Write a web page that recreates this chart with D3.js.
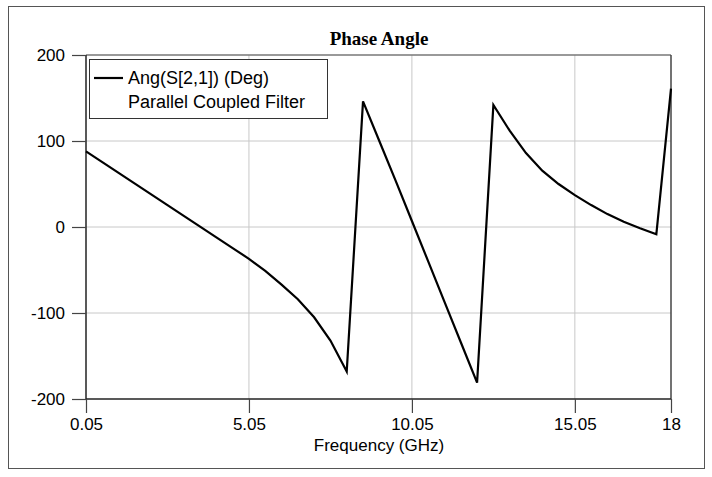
<!DOCTYPE html>
<html>
<head>
<meta charset="utf-8">
<script src="https://cdn.jsdelivr.net/npm/d3@7/dist/d3.min.js"></script>
<style>
  html, body { margin: 0; padding: 0; background: #fff; }
  svg { display: block; }
</style>
</head>
<body>
<svg id="chart" width="712" height="477"></svg>
<script>
// ---- data ----
const frequencies = [0.05, 0.55, 1.05, 1.55, 2.05, 2.55, 3.05, 3.55, 4.05, 4.55,
  5.05, 5.55, 6.05, 6.55, 7.05, 7.55, 8.05, 8.55, 9.05, 9.55,
  10.05, 10.55, 11.05, 11.55, 12.05, 12.55, 13.05, 13.55, 14.05, 14.55,
  15.05, 15.55, 16.05, 16.55, 17.05, 17.55, 18];
const phaseDeg = [88, 75.5, 63, 50.5, 38, 25.5, 13, 0.5, -12, -24.5,
  -37, -51, -67, -84, -105, -132, -168, 146, 100, 54,
  7, -40, -87, -134, -181, 142, 112, 86, 65.5, 50,
  37, 25.5, 15, 6, -1.5, -8.5, 161];
const xTickValues = [0.05, 5.05, 10.05, 15.05, 18];
const xTickLabels = ["0.05", "5.05", "10.05", "15.05", "18"];
const yTickValues = [-200, -100, 0, 100, 200];
const yTickLabels = ["-200", "-100", "0", "100", "200"];
const titleText = "Phase Angle";
const xAxisTitle = "Frequency (GHz)";
const legendLines = ["Ang(S[2,1]) (Deg)", "Parallel Coupled Filter"];

// ---- layout ----
const svg = d3.select("#chart");
const plot = { left: 86, right: 671, top: 55, bottom: 399 };

const x = d3.scaleLinear().domain([0.05, 18]).range([plot.left, plot.right]);
const y = d3.scaleLinear().domain([-200, 200]).range([plot.bottom, plot.top]);

// outer frame
svg.append("rect")
  .attr("x", 8.5).attr("y", 6.5).attr("width", 696).attr("height", 462)
  .attr("fill", "#fff").attr("stroke", "#555").attr("stroke-width", 1);

// title
svg.append("text")
  .attr("x", 379).attr("y", 45)
  .attr("text-anchor", "middle")
  .attr("font-family", "'Liberation Serif', 'Times New Roman', serif")
  .attr("font-weight", "bold")
  .attr("font-size", 19)
  .attr("fill", "#000")
  .text(titleText);

// gridlines
const grid = svg.append("g");
grid.selectAll("line.gx")
  .data(xTickValues.filter(v => v !== 0.05 && v !== 18))
  .enter().append("line")
  .attr("x1", d => x(d)).attr("x2", d => x(d))
  .attr("y1", plot.top).attr("y2", plot.bottom)
  .attr("stroke", "#c8c8c8").attr("stroke-width", 1);
grid.selectAll("line.gy")
  .data(yTickValues.filter(v => v !== -200 && v !== 200))
  .enter().append("line")
  .attr("y1", d => y(d)).attr("y2", d => y(d))
  .attr("x1", plot.left).attr("x2", plot.right)
  .attr("stroke", "#c8c8c8").attr("stroke-width", 1);

// top & right frame lines of plot
svg.append("line")
  .attr("x1", plot.left).attr("x2", plot.right)
  .attr("y1", plot.top).attr("y2", plot.top)
  .attr("stroke", "#777").attr("stroke-width", 1.5);
svg.append("line")
  .attr("x1", plot.right).attr("x2", plot.right)
  .attr("y1", plot.top).attr("y2", plot.bottom)
  .attr("stroke", "#444").attr("stroke-width", 1.5);

// axes
const xAxis = d3.axisBottom(x)
  .tickValues(xTickValues)
  .tickFormat((d, i) => xTickLabels[i])
  .tickSize(14).tickPadding(5);
const yAxis = d3.axisLeft(y)
  .tickValues(yTickValues)
  .tickFormat((d, i) => yTickLabels[i])
  .tickSize(14).tickPadding(7);

const gx = svg.append("g").attr("transform", `translate(0,${plot.bottom})`).call(xAxis);
const gy = svg.append("g").attr("transform", `translate(${plot.left},0)`).call(yAxis);
[gx, gy].forEach(g => {
  g.select(".domain").attr("stroke", "#222").attr("stroke-width", 1.5);
  g.selectAll(".tick line").attr("stroke", "#444").attr("stroke-width", 1.2);
  g.selectAll(".tick text")
    .attr("font-family", "'Liberation Sans', Arial, sans-serif")
    .attr("font-size", 17).attr("fill", "#000");
});
gx.select(".domain").attr("d", `M${plot.left},0H${plot.right}`);
gy.select(".domain").attr("d", `M0,${plot.top}V${plot.bottom}`);

// x axis title
svg.append("text")
  .attr("x", 379).attr("y", 451)
  .attr("text-anchor", "middle")
  .attr("font-family", "'Liberation Sans', Arial, sans-serif")
  .attr("font-size", 17).attr("fill", "#000")
  .text(xAxisTitle);

// data line
const data = frequencies.map((f, i) => ({ f, v: phaseDeg[i] }));
svg.append("path")
  .datum(data)
  .attr("fill", "none")
  .attr("stroke", "#000")
  .attr("stroke-width", 2.2)
  .attr("stroke-linejoin", "miter")
  .attr("d", d3.line().x(d => x(d.f)).y(d => y(d.v)));

// legend
const lg = svg.append("g");
lg.append("rect")
  .attr("x", 89.5).attr("y", 59.5).attr("width", 238).attr("height", 59)
  .attr("fill", "#fff").attr("stroke", "#333").attr("stroke-width", 1);
lg.append("line")
  .attr("x1", 94).attr("x2", 123).attr("y1", 78).attr("y2", 78)
  .attr("stroke", "#000").attr("stroke-width", 2.2);
lg.selectAll("text")
  .data(legendLines)
  .enter().append("text")
  .attr("x", 128)
  .attr("y", (d, i) => 84 + i * 24)
  .attr("font-family", "'Liberation Sans', Arial, sans-serif")
  .attr("font-size", 18).attr("fill", "#000")
  .text(d => d);
</script>
</body>
</html>
